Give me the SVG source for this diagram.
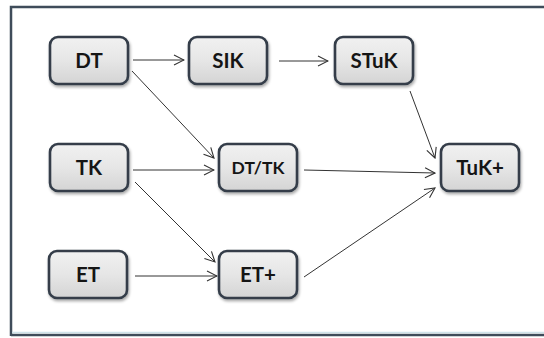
<svg xmlns="http://www.w3.org/2000/svg" width="544" height="338" viewBox="0 0 544 338">
  <defs>
    <linearGradient id="boxFill" x1="0" y1="0" x2="0" y2="1">
      <stop offset="0" stop-color="#f1f1f1"/>
      <stop offset="0.5" stop-color="#e6e6e6"/>
      <stop offset="1" stop-color="#d4d4d4"/>
    </linearGradient>
    <filter id="shadow" x="-20%" y="-20%" width="140%" height="150%">
      <feGaussianBlur in="SourceAlpha" stdDeviation="1.5"/>
      <feOffset dx="1" dy="2" result="b"/>
      <feComponentTransfer><feFuncA type="linear" slope="0.35"/></feComponentTransfer>
      <feMerge><feMergeNode/><feMergeNode in="SourceGraphic"/></feMerge>
    </filter>
    <marker id="arrow" viewBox="0 0 12 12" refX="11" refY="6" markerWidth="12" markerHeight="12" markerUnits="userSpaceOnUse" orient="auto">
      <path d="M1,1 L11,6 L1,11" fill="none" stroke="#333" stroke-width="1.1"/>
    </marker>
  </defs>
  <style>
    .box { fill: url(#boxFill); stroke: #343e4a; stroke-width: 2.6; filter: url(#shadow); }
    .label { font-family: Lato, "Open Sans", sans-serif; font-size: 20.5px; font-weight: 700; fill: #151515; text-anchor: middle; }
    .small { font-size: 17.5px; }
    .edge { fill: none; stroke: #333; stroke-width: 1; marker-end: url(#arrow); }
  </style>

  <rect x="0" y="0" width="544" height="338" fill="#ffffff"/>
  <!-- outer frame -->
  <path d="M11,336 L11,7 L546,7" fill="none" stroke="#3f4c5a" stroke-width="2.5"/>
  <line x1="11" y1="335" x2="546" y2="335" stroke="#3f4c5a" stroke-width="2.5"/>
  <line x1="12" y1="332.5" x2="546" y2="332.5" stroke="#cfe3ea" stroke-width="1.5"/>

  <g id="connectors">
    <line class="edge" x1="133" y1="60" x2="184" y2="60"/>
    <line class="edge" x1="132" y1="71" x2="214" y2="158"/>
    <line class="edge" x1="279" y1="61" x2="328" y2="61"/>
    <line class="edge" x1="410" y1="91" x2="435" y2="158"/>
    <line class="edge" x1="133" y1="170" x2="214" y2="170"/>
    <line class="edge" x1="135" y1="182" x2="215" y2="262"/>
    <line class="edge" x1="135" y1="276" x2="217" y2="276"/>
    <line class="edge" x1="304" y1="170" x2="435" y2="173"/>
    <line class="edge" x1="304" y1="277" x2="435" y2="188"/>
  </g>

  <g id="node-dt">
    <rect class="box" x="50" y="37" width="78" height="47" rx="8"/>
    <text class="label" x="89" y="68">DT</text>
  </g>
  <g id="node-sik">
    <rect class="box" x="189" y="37" width="78" height="47" rx="8"/>
    <text class="label" x="228" y="68">SIK</text>
  </g>
  <g id="node-stuk">
    <rect class="box" x="335" y="37" width="78" height="47" rx="8"/>
    <text class="label" x="374" y="68">STuK</text>
  </g>
  <g id="node-tk">
    <rect class="box" x="50" y="144" width="78" height="47" rx="8"/>
    <text class="label" x="89" y="175">TK</text>
  </g>
  <g id="node-dttk">
    <rect class="box" x="219" y="144" width="78" height="47" rx="8"/>
    <text class="label small" x="258" y="174">DT/TK</text>
  </g>
  <g id="node-tukplus">
    <rect class="box" x="441" y="144" width="78" height="47" rx="8"/>
    <text class="label" x="480" y="175">TuK+</text>
  </g>
  <g id="node-et">
    <rect class="box" x="49" y="251" width="78" height="47" rx="8"/>
    <text class="label" x="88" y="282">ET</text>
  </g>
  <g id="node-etplus">
    <rect class="box" x="219" y="251" width="78" height="47" rx="8"/>
    <text class="label" x="258" y="282">ET+</text>
  </g>
</svg>
